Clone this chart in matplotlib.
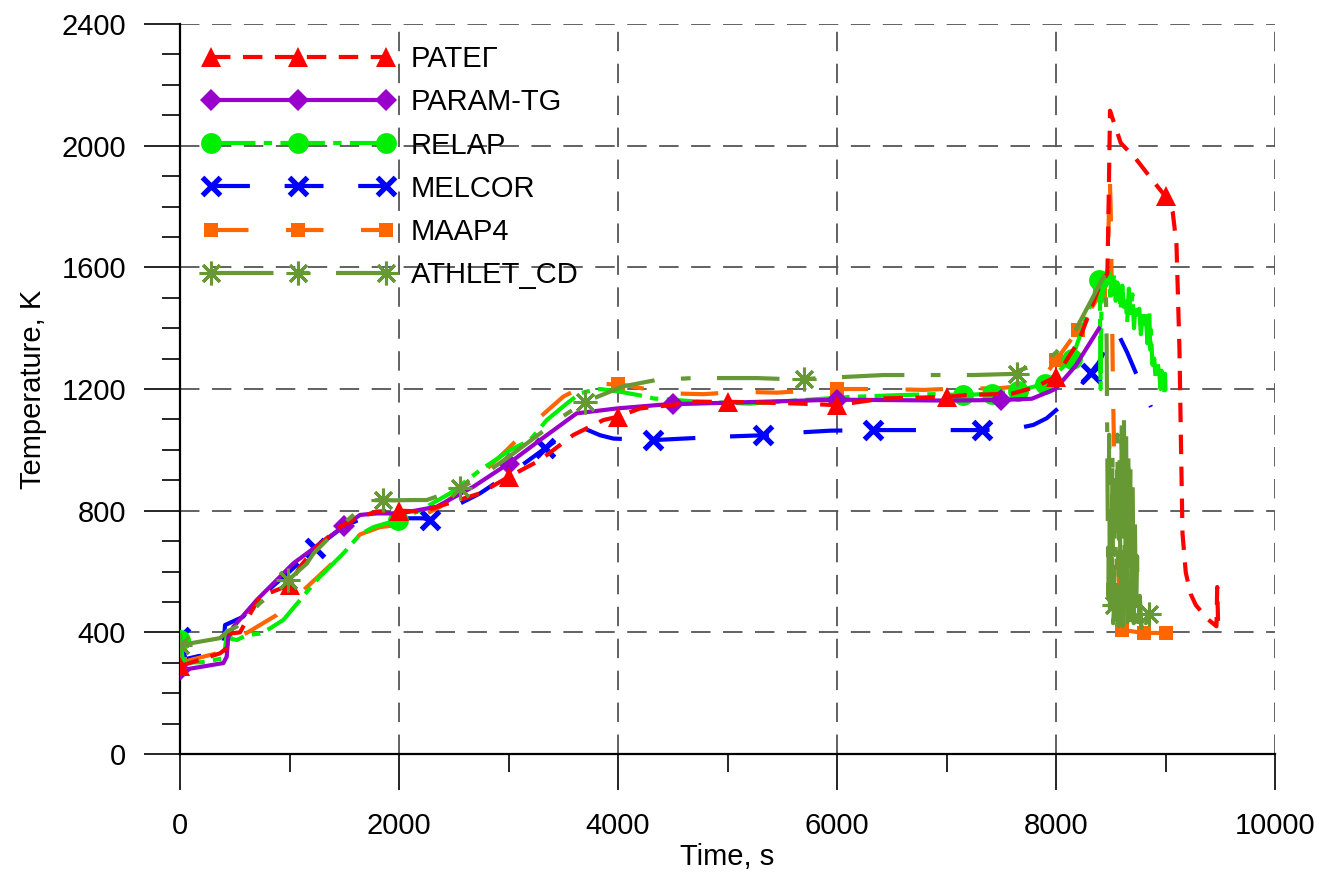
import numpy as np
import matplotlib.pyplot as plt
from matplotlib.lines import Line2D
from matplotlib.ticker import MultipleLocator

plt.rcParams['font.family'] = ['Liberation Sans', 'DejaVu Sans']
plt.rcParams['lines.scale_dashes'] = False

# ---------------- data (time, s / temperature, K) ----------------
rateg_t = [0, 122, 365, 426, 457, 548, 624, 730, 1000, 1096, 1248, 1461, 1644, 1796, 2000,
           2222, 2405, 2740, 3000, 3287, 3592, 3866, 4000, 4200, 4500, 4719, 5000, 5358, 5662,
           6000, 6423, 7000, 7183, 7600, 7800, 8000, 8208, 8392, 8469, 8480, 8493, 8591, 8729,
           8882, 9000, 9066, 9100, 9127, 9140, 9155, 9185, 9230, 9276, 9383, 9465, 9472, 9480, 9495]
rateg_T = [289, 303, 331, 348, 396, 400, 451, 517, 556, 616, 681, 747, 780, 797, 800,
           797, 819, 857, 911, 966, 1049, 1098, 1109, 1136, 1148, 1158, 1158, 1155, 1152,
           1147, 1169, 1174, 1180, 1185, 1205, 1240, 1358, 1534, 1580, 1800, 2115, 2009, 1957,
           1886, 1833, 1781, 1675, 1335, 1042, 725, 596, 526, 490, 444, 420, 549, 430, 426]
rateg_mark = [0, 1000, 2000, 3000, 4000, 5000, 6000, 7000, 8000, 9000]

param_t = [0, 396, 426, 441, 487, 700, 1035, 1500, 1644, 1796, 2009, 2344, 2679, 3000, 3287,
           3622, 3987, 4383, 4500, 5000, 6000, 7000, 7500, 7779, 7994, 8178, 8392]
param_T = [275, 299, 320, 386, 418, 506, 627, 750, 786, 791, 791, 813, 879, 955, 1032,
           1120, 1136, 1148, 1150, 1155, 1165, 1162, 1164, 1168, 1200, 1276, 1399]
param_mark = [0, 1500, 3000, 4500, 6000, 7500]

relap_t = [0, 30, 200, 400, 430, 472, 520, 609, 730, 822, 944, 1096, 1248, 1492, 1644, 1766,
           1918, 1990, 2192, 2466, 2740, 3014, 3196, 3349, 3531, 3653, 3775, 3836, 4018, 4262,
           4323, 4749, 5205, 5662, 6119, 6575, 6880, 7154, 7413, 7657, 7902, 8147, 8392, 8400,
           8407, 8415, 8440, 8470, 8484, 8495, 8505, 8515, 8530, 8545, 8560, 8576, 8590, 8605,
           8620, 8637, 8650, 8665, 8680, 8698, 8712, 8725, 8740, 8760, 8775, 8790, 8805, 8820,
           8835, 8852, 8860, 8867, 8880, 8897, 8910, 8925, 8943, 8955, 8965, 8974, 8989, 8995, 9000]
relap_T = [375, 300, 302, 315, 405, 378, 375, 391, 396, 413, 441, 506, 572, 660, 722, 746,
           762, 769, 801, 857, 933, 999, 1032, 1098, 1152, 1186, 1197, 1200, 1191, 1175,
           1169, 1158, 1152, 1163, 1174, 1180, 1183, 1180, 1185, 1194, 1218, 1300, 1558, 1540,
           1200, 1480, 1560, 1590, 1581, 1500, 1560, 1511, 1580, 1490, 1550, 1534, 1460, 1540,
           1470, 1487, 1420, 1530, 1450, 1511, 1400, 1480, 1430, 1464, 1380, 1450, 1400, 1440,
           1350, 1452, 1330, 1394, 1280, 1300, 1230, 1290, 1253, 1200, 1260, 1218, 1182, 1250, 1195]
relap_mark = [0, 1990, 7154, 7413, 7657, 7902, 8147, 8392]

melcor_t = [0, 50, 170, 390, 411, 575, 700, 1000, 1233, 1500, 1650, 1918, 2222, 2283, 2527,
            2740, 3105, 3333, 3622, 3653, 3836, 3958, 4323, 4597, 4932, 5327, 5601, 5936, 6332,
            6606, 6925, 7321, 7610, 7793, 7915, 8147, 8315, 8392, 8450, 8520, 8550, 8650, 8729, 8867]
melcor_T = [385, 312, 322, 330, 424, 451, 505, 600, 676, 750, 772, 775, 775, 769, 818,
            857, 945, 1005, 1076, 1076, 1048, 1037, 1032, 1037, 1043, 1048, 1056, 1063, 1065,
            1065, 1065, 1065, 1068, 1082, 1104, 1176, 1253, 1288, 1330, 1380, 1394, 1320, 1253, 1141]
melcor_mark = [0, 1233, 2283, 3333, 4323, 5327, 6332, 7321, 8315]

maap_t = [0, 91, 335, 426, 480, 609, 883, 1126, 1370, 1644, 1827, 1918, 2222, 2375, 2770,
          2983, 3257, 3500, 3700, 3775, 4000, 4109, 4445, 4780, 5114, 5449, 6000, 6454, 6789,
          7108, 7458, 7793, 7930, 8000, 8200, 8400, 8470, 8490, 8500, 8510, 8520, 8530, 8545,
          8560, 8575, 8600, 8800, 9000]
maap_T = [295, 309, 331, 340, 380, 398, 457, 538, 620, 722, 746, 750, 785, 813, 927,
          999, 1098, 1175, 1212, 1218, 1215, 1210, 1186, 1183, 1191, 1188, 1200, 1200, 1197,
          1202, 1202, 1213, 1260, 1294, 1394, 1511, 1560, 1910, 1780, 1500, 1200, 1000, 820,
          700, 560, 408, 398, 398]
maap_mark = [0, 4000, 6000, 8000, 8200, 8400, 8600, 8800, 9000]

athlet_t = [0, 365, 426, 518, 730, 989, 1157, 1218, 1461, 1735, 1857, 1948, 2131, 2253, 2557,
            2770, 3044, 3500, 3699, 4048, 4109, 4353, 4688, 5266, 5510, 5698, 6089, 6423, 7001,
            7244, 7642, 7671, 7900, 8000, 8178, 8453, 8462, 8470, 8478, 8485, 8492, 8500, 8508,
            8515, 8522, 8530, 8540, 8550, 8560, 8570, 8580, 8590, 8600, 8610, 8620, 8630, 8640,
            8650, 8660, 8670, 8680, 8690, 8700, 8710, 8720, 8730, 8740, 8750, 8765, 8780, 8800,
            8820, 8852]
athlet_T = [358, 381, 402, 419, 496, 572, 626, 659, 747, 834, 835, 834, 835, 835, 873,
            918, 988, 1111, 1158, 1209, 1213, 1230, 1236, 1236, 1233, 1233, 1240, 1246, 1246,
            1246, 1250, 1262, 1290, 1320, 1394, 1581, 1350, 900, 520, 1050, 470, 800, 480,
            1000, 430, 490, 900, 440, 1050, 420, 980, 450, 1100, 420, 1128, 460, 1050,
            420, 1000, 440, 950, 410, 880, 430, 780, 420, 650, 410, 520, 415, 470,
            430, 461]
athlet_mark = [0, 989, 1857, 2557, 3699, 5698, 7642, 8530, 8852]

labels = ['РАТЕГ', 'PARAM-TG', 'RELAP', 'MELCOR', 'MAAP4', 'ATHLET_CD']

# ---------------- styles ----------------
star = (8, 2, 0)
styles = {
    'РАТЕГ': dict(color='#ff0000', dashes=(14, 9), marker='^', ms=15, mew=0),
    'PARAM-TG': dict(color='#9900cc', ls='-', marker='D', ms=11, mew=0),
    'RELAP': dict(color='#00ee00', dashes=(32, 6, 6, 6), marker='o', ms=15, mew=0),
    'MELCOR': dict(color='#0000ff', dashes=(28, 25), marker='x', ms=13, mew=3.8),
    'MAAP4': dict(color='#ff6600', dashes=(27, 27), marker='s', ms=10.5, mew=0),
    'ATHLET_CD': dict(color='#669933', dashes=(45, 19, 7, 19), marker=star, ms=17, mew=2.2),
}

series = {
    'РАТЕГ': (rateg_t, rateg_T, rateg_mark),
    'PARAM-TG': (param_t, param_T, param_mark),
    'RELAP': (relap_t, relap_T, relap_mark),
    'MELCOR': (melcor_t, melcor_T, melcor_mark),
    'MAAP4': (maap_t, maap_T, maap_mark),
    'ATHLET_CD': (athlet_t, athlet_T, athlet_mark),
}

fig = plt.figure(figsize=(13.21, 8.74), dpi=100)
ax = fig.add_axes([0.1363, 0.1373, 0.8289, 0.8352])

draw_order = ['MELCOR', 'MAAP4', 'RELAP', 'PARAM-TG', 'РАТЕГ', 'ATHLET_CD']
for name in draw_order:
    t, T, mk = series[name]
    t = np.array(t)
    T = np.array(T)
    idx = list(np.where(np.isin(t, mk))[0])
    ax.plot(t, T, lw=3.0, markevery=idx, zorder=3, **styles[name])

handles = []
for name in labels:
    handles.append(Line2D([], [], lw=3.0, **styles[name]))

ax.legend(handles, labels, loc='upper left', bbox_to_anchor=(0.02, 0.971),
          frameon=False, numpoints=3, handlelength=6.6, handletextpad=0.55,
          labelspacing=0.52, fontsize=21, borderpad=0, borderaxespad=0)

ax.set_xlim(0, 10000)
ax.set_ylim(0, 2400)
ax.xaxis.set_major_locator(MultipleLocator(2000))
ax.xaxis.set_minor_locator(MultipleLocator(1000))
ax.yaxis.set_major_locator(MultipleLocator(400))
ax.yaxis.set_minor_locator(MultipleLocator(100))

ax.grid(True, which='major', color='#555555', lw=1.3, dashes=(14, 9))
ax.set_axisbelow(True)

for s in ['top', 'right']:
    ax.spines[s].set_visible(False)
for s in ['left', 'bottom']:
    ax.spines[s].set_linewidth(1.6)

ax.tick_params(which='major', direction='out', length=26, width=1.2, labelsize=21)
ax.tick_params(axis='x', which='major', pad=16)
ax.tick_params(axis='y', which='major', pad=13)
ax.tick_params(which='minor', direction='out', length=13, width=1.2)

ax.set_xlabel('Time, s', fontsize=21, labelpad=2)
ax.set_ylabel('Temperature, K', fontsize=21, labelpad=10)

fig.savefig('out.png', dpi=100)
